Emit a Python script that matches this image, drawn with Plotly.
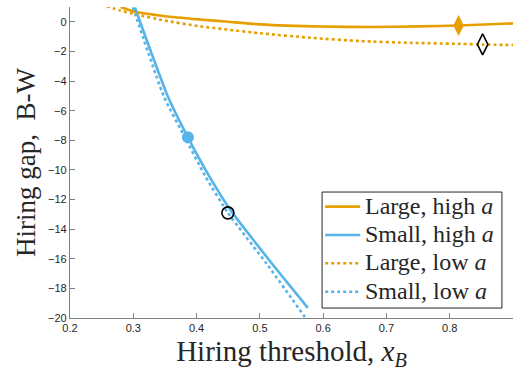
import plotly.graph_objects as go

ORANGE = "#E69F00"
BLUE = "#56B4E9"
SERIF = "Liberation Serif, Times New Roman, serif"
TEXT = "#262626"

# Large firms, high a
large_high_x = [0.280, 0.305, 0.350, 0.405, 0.450, 0.500, 0.600, 0.674, 0.753, 0.814, 0.900]
large_high_y = [1.00, 0.66, 0.38, 0.16, 0.00, -0.17, -0.32, -0.35, -0.31, -0.25, -0.11]

# Small firms, high a
small_high_x = [0.3026, 0.3547, 0.3863, 0.4211, 0.4558, 0.5205, 0.5758]
small_high_y = [0.97, -5.05, -7.80, -10.50, -12.85, -16.40, -19.32]

# Large firms, low a
large_low_x = [0.258, 0.279, 0.306, 0.350, 0.405, 0.500, 0.580, 0.658, 0.740, 0.816, 0.852, 0.900]
large_low_y = [1.05, 0.76, 0.49, 0.08, -0.30, -0.77, -1.08, -1.30, -1.42, -1.49, -1.53, -1.57]

# Small firms, low a
small_low_x = [0.2995, 0.3484, 0.3816, 0.4147, 0.4495, 0.5110, 0.5711]
small_low_y = [0.97, -5.05, -7.80, -10.50, -12.90, -16.35, -19.93]

# Highlighted equilibrium points
eq_high_x = [0.814, 0.3863]
eq_high_y = [-0.25, -7.80]
eq_low_x = [0.852, 0.4495]
eq_low_y = [-1.53, -12.90]

series_names = ["Large, high <i>a</i>", "Small, high <i>a</i>", "Large, low <i>a</i>", "Small, low <i>a</i>"]
series_colors = [ORANGE, BLUE, ORANGE, BLUE]
series_dash = ["solid", "solid", "dot", "dot"]

LW = 2.6

fig = go.Figure()
curves = [(large_high_x, large_high_y, 0.6), (small_high_x, small_high_y, 0.5),
          (large_low_x, large_low_y, 0.6), (small_low_x, small_low_y, 0.5)]
for (xs, ys, sm), name, col, dash in zip(curves, series_names, series_colors, series_dash):
    fig.add_trace(go.Scatter(x=xs, y=ys, mode="lines", name=name, showlegend=False,
                             line=dict(color=col, width=LW, dash=dash, shape="spline", smoothing=sm)))

# filled markers on the high-a curves
fig.add_trace(go.Scatter(x=[eq_high_x[0]], y=[eq_high_y[0]], mode="markers", showlegend=False,
                         marker=dict(symbol="diamond-tall", size=15, color=ORANGE, line=dict(width=0))))
fig.add_trace(go.Scatter(x=[eq_high_x[1]], y=[eq_high_y[1]], mode="markers", showlegend=False,
                         marker=dict(symbol="circle", size=12, color=BLUE, line=dict(width=0))))
# open markers on the low-a curves
fig.add_trace(go.Scatter(x=[eq_low_x[0]], y=[eq_low_y[0]], mode="markers", showlegend=False,
                         marker=dict(symbol="diamond-tall-open", size=15, color="black", line=dict(width=1.6))))
fig.add_trace(go.Scatter(x=[eq_low_x[1]], y=[eq_low_y[1]], mode="markers", showlegend=False,
                         marker=dict(symbol="circle-open", size=12, color="black", line=dict(width=1.6))))

# legend box drawn in axis-domain coordinates
box_x0, box_x1, box_y0, box_y1 = 0.569, 0.975, 0.032, 0.405
row_y = [0.358, 0.267, 0.176, 0.0846]
line_x0, line_x1, text_x = 0.576, 0.655, 0.662

fig.add_shape(type="rect", xref="x domain", yref="y domain", x0=box_x0, x1=box_x1, y0=box_y0, y1=box_y1,
              fillcolor="white", line=dict(color=TEXT, width=1), layer="above")
for yy, name, col, dash in zip(row_y, series_names, series_colors, series_dash):
    fig.add_shape(type="line", xref="x domain", yref="y domain", x0=line_x0, x1=line_x1, y0=yy, y1=yy,
                  line=dict(color=col, width=LW, dash=dash), layer="above")
    fig.add_annotation(xref="x domain", yref="y domain", x=text_x, y=yy, text=name, showarrow=False,
                       xanchor="left", yanchor="middle", yshift=1,
                       font=dict(family=SERIF, size=24, color=TEXT))

axis_common = dict(
    showgrid=False, zeroline=False, showline=True, linecolor="#808080", linewidth=1.3,
    ticks="inside", ticklen=5, tickcolor="#808080", tickwidth=1.2,
    tickfont=dict(family="Liberation Sans, Arial, sans-serif", size=11, color=TEXT),
    mirror=False,
)

fig.update_layout(
    width=519, height=371,
    margin=dict(l=70, r=6, t=7, b=53),
    paper_bgcolor="white", plot_bgcolor="white",
    xaxis=dict(range=[0.2, 0.9], tickvals=[0.2, 0.3, 0.4, 0.5, 0.6, 0.7, 0.8, 0.9],
               ticktext=["0.2", "0.3", "0.4", "0.5", "0.6", "0.7", "0.8", "0.9"],
               title=dict(text="Hiring threshold, <i>x</i><sub><i>B</i></sub>", standoff=9,
                          font=dict(family=SERIF, size=29, color=TEXT)),
               **axis_common),
    yaxis=dict(range=[-20, 1], tickvals=list(range(-20, 1, 2)),
               title=dict(text="Hiring gap,  B-W", standoff=4,
                          font=dict(family=SERIF, size=27, color=TEXT)),
               **axis_common),
    showlegend=False,
)

fig.write_html("out.html")
